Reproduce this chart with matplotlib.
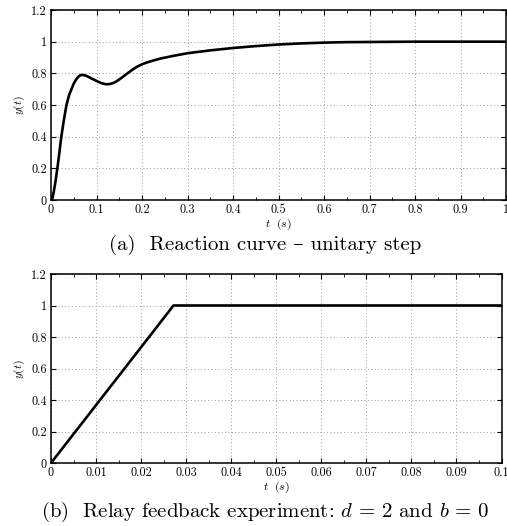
import matplotlib
matplotlib.use("agg")
import matplotlib.pyplot as plt
from matplotlib.ticker import MultipleLocator

plt.rcParams['font.family'] = ['cmr10', 'DejaVu Serif']
plt.rcParams['mathtext.fontset'] = 'cm'
plt.rcParams['axes.formatter.use_mathtext'] = True

# (a) reaction curve, unitary step
t_step = [0, 0.003, 0.006, 0.01, 0.014, 0.018, 0.0227, 0.028, 0.034, 0.04,
          0.045, 0.05, 0.055, 0.06, 0.065, 0.07, 0.075, 0.08, 0.09, 0.1,
          0.11, 0.117, 0.122, 0.128, 0.135, 0.142, 0.15, 0.158, 0.168, 0.18,
          0.19, 0.2, 0.21, 0.22, 0.24, 0.27, 0.3, 0.35, 0.4, 0.45, 0.5, 0.55,
          0.6, 0.65, 0.7, 0.8, 0.9, 1.0]
y_step = [0, 0.01, 0.05, 0.12, 0.2, 0.29, 0.4, 0.5, 0.6, 0.665,
          0.70, 0.735, 0.76, 0.778, 0.789, 0.79, 0.787, 0.781, 0.766, 0.752,
          0.739, 0.733, 0.731, 0.732, 0.737, 0.746, 0.761, 0.778, 0.80, 0.825,
          0.843, 0.857, 0.868, 0.877, 0.893, 0.911, 0.927, 0.945, 0.96, 0.972,
          0.982, 0.989, 0.994, 0.997, 0.998, 1.0, 1.0, 1.0]

# (b) relay feedback experiment
t_relay = [0, 0.0272, 0.1]
y_relay = [0, 1, 1]

y_ticks = [0, 0.2, 0.4, 0.6, 0.8, 1.0, 1.2]
y_ticklabels = ['0', '0.2', '0.4', '0.6', '0.8', '1', '1.2']
xa_ticks = [0, 0.1, 0.2, 0.3, 0.4, 0.5, 0.6, 0.7, 0.8, 0.9, 1.0]
xa_ticklabels = ['0', '0.1', '0.2', '0.3', '0.4', '0.5', '0.6', '0.7', '0.8', '0.9', '1']
xb_ticks = [0, 0.01, 0.02, 0.03, 0.04, 0.05, 0.06, 0.07, 0.08, 0.09, 0.1]
xb_ticklabels = ['0', '0.01', '0.02', '0.03', '0.04', '0.05', '0.06', '0.07', '0.08', '0.09', '0.1']

W, H = 507.0, 526.0


def style_axes(ax, xticks, xticklabels, minor):
    ax.set_ylim(0, 1.2)
    ax.set_xlim(xticks[0], xticks[-1])
    ax.set_yticks(y_ticks)
    ax.set_yticklabels(y_ticklabels)
    ax.set_xticks(xticks)
    ax.set_xticklabels(xticklabels)
    ax.xaxis.set_minor_locator(MultipleLocator(minor))
    ax.tick_params(which='both', direction='in', top=True, right=True,
                   labelsize=8.8, pad=3)
    ax.tick_params(which='major', length=3.5, width=0.8)
    ax.tick_params(which='minor', length=2, width=0.6)
    ax.grid(True, which='major', linestyle=(0, (1, 2.5)), color='0.6', lw=0.7)
    for sp in ax.spines.values():
        sp.set_linewidth(1.1)
    ax.set_ylabel('$y(t)$', fontsize=8.5, labelpad=3)
    ax.set_xlabel(r'$t\ \ (s)$', fontsize=8.5, labelpad=0)


fig = plt.figure(figsize=(W / 100, H / 100), dpi=100)

ax1 = fig.add_axes([51 / W, 326 / H, 455 / W, 190 / H])
ax1.plot(t_step, y_step, color='black', lw=1.9, solid_joinstyle='round')
style_axes(ax1, xa_ticks, xa_ticklabels, 0.05)

ax2 = fig.add_axes([51 / W, 63 / H, 450.5 / W, 189 / H])
ax2.plot(t_relay, y_relay, color='black', lw=1.9)
style_axes(ax2, xb_ticks, xb_ticklabels, 0.005)

fig.text(0.523, (H - 245) / H, '(a)  Reaction curve \u2013 unitary step',
         ha='center', va='center', fontsize=15)
fig.text(0.523, (H - 512) / H,
         '(b)  Relay feedback experiment: $d\\,=\\,2$ and $b\\,=\\,0$',
         ha='center', va='center', fontsize=15)

fig.savefig('out.png', dpi=100)
